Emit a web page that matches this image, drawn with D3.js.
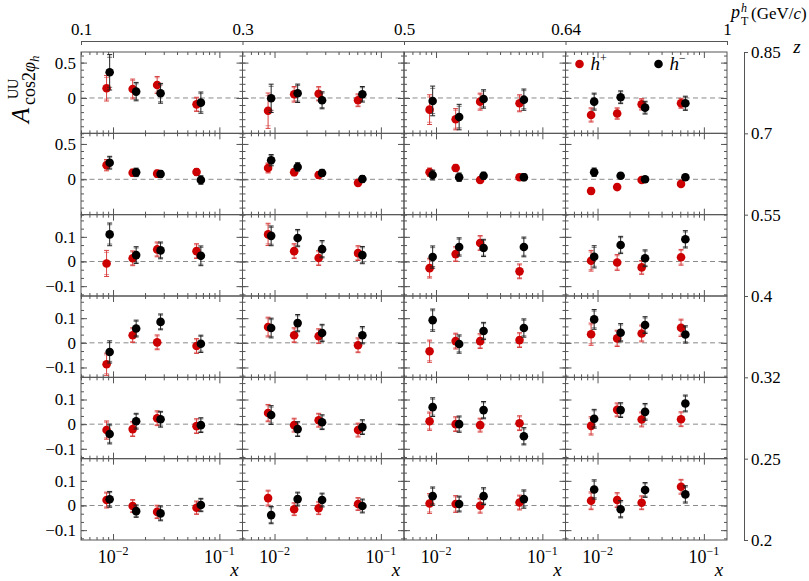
<!DOCTYPE html>
<html>
<head>
<meta charset="utf-8">
<script src="https://cdn.jsdelivr.net/npm/d3@7"></script>
<style>
  body { margin: 0; background: #fff; }
  svg, svg text { font-family: "Liberation Serif", "DejaVu Serif", serif !important; }
</style>
</head>
<body>
<div id="grafico"></div>
<script>
// 1) dados ------------------------------------------------
// bins (z de cima para baixo, pT da esquerda para a direita)
const ptEdges = [0.1, 0.3, 0.5, 0.64, 1];
const zEdges = [0.85, 0.7, 0.55, 0.4, 0.32, 0.25, 0.2];
// x médio de cada bin (h+ levemente deslocado para a esquerda)
const xPlus = [0.0087, 0.0153, 0.026, 0.061];
const xMinus = [0.0093, 0.0165, 0.028, 0.067];
const xTickLabels = [0.01, 0.1];

// A_UU^cos2phi por linha z -> coluna pT -> bin x
const hPlusY = [
  [[0.137, 0.127, 0.184, -0.09], [-0.18, 0.052, 0.06, -0.033], [-0.165, -0.30, -0.052, -0.075], [-0.24, -0.22, -0.09, -0.075]],
  [[0.2, 0.093, 0.08, 0.103], [0.16, 0.1, 0.06, -0.05], [0.1, 0.16, -0.01, 0.03], [-0.165, -0.11, -0.01, -0.065]],
  [[-0.008, 0.013, 0.049, 0.042], [0.11, 0.042, 0.014, 0.034], [-0.027, 0.03, 0.075, -0.04], [0.003, -0.004, -0.024, 0.017]],
  [[-0.087, 0.031, 0.002, -0.013], [0.064, 0.031, 0.027, -0.01], [-0.034, 0.007, 0.007, 0.011], [0.035, 0.018, 0.038, 0.061]],
  [[-0.024, -0.02, 0.024, -0.008], [0.045, -0.004, 0.016, -0.024], [0.012, 0.0, -0.004, 0.004], [-0.007, 0.058, 0.019, 0.02]],
  [[0.022, -0.002, -0.026, -0.009], [0.03, -0.015, -0.011, 0.006], [0.008, 0.006, -0.001, 0.012], [0.019, 0.022, 0.011, 0.076]]
];
const hPlusErr = [
  [[0.18, 0.14, 0.12, 0.10], [0.25, 0.11, 0.10, 0.09], [0.21, 0.15, 0.12, 0.12], [0.10, 0.08, 0.08, 0.07]],
  [[0.08, 0.05, 0.05, 0.05], [0.07, 0.05, 0.05, 0.04], [0.06, 0.05, 0.04, 0.04], [0.05, 0.04, 0.03, 0.03]],
  [[0.053, 0.03, 0.03, 0.03], [0.045, 0.03, 0.03, 0.03], [0.04, 0.03, 0.03, 0.03], [0.042, 0.032, 0.028, 0.032]],
  [[0.045, 0.03, 0.03, 0.03], [0.04, 0.03, 0.03, 0.03], [0.045, 0.032, 0.03, 0.03], [0.045, 0.033, 0.034, 0.035]],
  [[0.037, 0.03, 0.03, 0.03], [0.035, 0.028, 0.028, 0.028], [0.037, 0.03, 0.028, 0.03], [0.037, 0.028, 0.03, 0.03]],
  [[0.032, 0.026, 0.027, 0.027], [0.032, 0.026, 0.026, 0.026], [0.04, 0.034, 0.03, 0.03], [0.036, 0.03, 0.028, 0.03]]
];
const hMinusY = [
  [[0.363, 0.09, 0.066, -0.066], [-0.005, 0.066, -0.033, 0.052], [-0.042, -0.27, -0.014, -0.024], [-0.052, 0.01, -0.137, -0.075]],
  [[0.235, 0.098, 0.075, -0.01], [0.27, 0.175, 0.09, 0.004], [0.06, 0.03, 0.05, 0.03], [0.1, 0.05, 0.0, 0.03]],
  [[0.11, 0.026, 0.045, 0.023], [0.104, 0.095, 0.05, 0.026], [0.018, 0.059, 0.055, 0.059], [0.019, 0.067, 0.013, 0.09]],
  [[-0.037, 0.058, 0.085, -0.004], [0.06, 0.08, 0.04, 0.031], [0.092, -0.005, 0.048, 0.06], [0.095, 0.041, 0.072, 0.034]],
  [[-0.04, 0.012, 0.02, -0.004], [0.037, -0.02, 0.008, -0.012], [0.069, 0.0, 0.057, -0.049], [0.022, 0.057, 0.05, 0.084]],
  [[0.025, -0.023, -0.032, 0.002], [-0.039, 0.026, 0.022, -0.002], [0.038, 0.006, 0.038, 0.026], [0.065, -0.015, 0.063, 0.045]]
];
const hMinusErr = [
  [[0.25, 0.13, 0.14, 0.15], [0.2, 0.13, 0.12, 0.11], [0.21, 0.18, 0.13, 0.15], [0.12, 0.09, 0.09, 0.10]],
  [[0.09, 0.06, 0.05, 0.06], [0.08, 0.06, 0.05, 0.05], [0.07, 0.06, 0.05, 0.05], [0.06, 0.04, 0.04, 0.04]],
  [[0.046, 0.034, 0.034, 0.04], [0.04, 0.035, 0.035, 0.035], [0.045, 0.037, 0.035, 0.04], [0.045, 0.035, 0.034, 0.035]],
  [[0.045, 0.034, 0.032, 0.035], [0.04, 0.035, 0.035, 0.035], [0.045, 0.037, 0.035, 0.037], [0.04, 0.037, 0.034, 0.035]],
  [[0.04, 0.032, 0.032, 0.03], [0.038, 0.03, 0.03, 0.03], [0.038, 0.033, 0.035, 0.035], [0.038, 0.03, 0.034, 0.034]],
  [[0.032, 0.025, 0.03, 0.027], [0.035, 0.028, 0.028, 0.028], [0.037, 0.032, 0.034, 0.037], [0.039, 0.035, 0.03, 0.035]]
];

// 2) medidas -----------------------------------------
const largura = 809, altura = 581;
const esq = 81, dir = 727, sup = 52, inf = 540;
const colW = (dir - esq) / 4, rowH = (inf - sup) / 6;
const xDomain = [0.005, 0.165];
const yWide = [-0.5, 0.65], yNarrow = [-0.14, 0.19];
const eixoCor = "#555";
const vermelho = "#cc0000";
const fonte = "'Liberation Serif', 'DejaVu Serif', serif";

const svg = d3.select("#grafico").append("svg")
  .attr("width", largura).attr("height", altura)
  .style("font-family", fonte);

const xMinor = [0.005, 0.006, 0.007, 0.008, 0.009, 0.02, 0.03, 0.04, 0.05, 0.06, 0.07, 0.08, 0.09];
const minorWide = d3.range(-5, 7).map(i => i / 10);
const minorNarrow = d3.range(-4, 6).map(i => i / 30);

function estiliza(g) {
  g.attr("font-family", null);
  g.select(".domain").remove();
  g.selectAll(".tick line").attr("stroke", eixoCor);
}

// 3) paineis -----------------------------------------
for (let r = 0; r < 6; r++) {
  for (let c = 0; c < 4; c++) {
    const x0 = esq + c * colW, y0 = sup + r * rowH;
    const x = d3.scaleLog().domain(xDomain).range([x0, x0 + colW]);
    const y = d3.scaleLinear().domain(r < 2 ? yWide : yNarrow).range([y0 + rowH, y0]);
    const major = r < 2 ? [0, 0.5] : [-0.1, 0, 0.1];
    const minor = r < 2 ? minorWide : minorNarrow;
    const g = svg.append("g");

    // linha do zero
    g.append("line")
      .attr("x1", x0).attr("x2", x0 + colW)
      .attr("y1", y(0)).attr("y2", y(0))
      .attr("stroke", "#8a8a8a").attr("stroke-dasharray", "5,3.5");

    // eixos (ticks para dentro)
    g.append("g").attr("transform", `translate(${x0},0)`)
      .call(d3.axisLeft(y).tickValues(minor).tickSize(-3).tickFormat("")).call(estiliza);
    g.append("g").attr("transform", `translate(${x0 + colW},0)`)
      .call(d3.axisRight(y).tickValues(minor).tickSize(-3).tickFormat("")).call(estiliza);
    g.append("g").attr("transform", `translate(${x0 + colW},0)`)
      .call(d3.axisRight(y).tickValues(major).tickSize(-6).tickFormat("")).call(estiliza);
    const yl = g.append("g").attr("transform", `translate(${x0},0)`)
      .call(d3.axisLeft(y).tickValues(major).tickSize(-6).tickPadding(5)
        .tickFormat(c === 0 ? (d => d === 0 ? "0" : d3.format(".1f")(d)) : ""))
      .call(estiliza);
    yl.selectAll("text").attr("font-size", 17).style("font-family", fonte);

    [["bottom", y0 + rowH], ["top", y0]].forEach(([lado, yy]) => {
      const ax = lado === "bottom" ? d3.axisBottom : d3.axisTop;
      g.append("g").attr("transform", `translate(0,${yy})`)
        .call(ax(x).tickValues(xMinor).tickSize(-3).tickFormat("")).call(estiliza);
      g.append("g").attr("transform", `translate(0,${yy})`)
        .call(ax(x).tickValues(xTickLabels).tickSize(-6).tickFormat("")).call(estiliza);
    });

    // moldura
    g.append("rect").attr("x", x0).attr("y", y0).attr("width", colW).attr("height", rowH)
      .attr("fill", "none").attr("stroke", eixoCor).attr("stroke-width", 1);

    // series
    const series = [
      { xs: xPlus, vals: hPlusY[r][c], errs: hPlusErr[r][c], cor: vermelho, barra: "#d84040" },
      { xs: xMinus, vals: hMinusY[r][c], errs: hMinusErr[r][c], cor: "#000", barra: "#222" }
    ];
    series.forEach(s => {
      const pts = s.xs.map((xv, i) => ({ x: xv, v: s.vals[i], e: s.errs[i] }));
      const eb = g.append("g").selectAll("g").data(pts).join("g")
        .attr("stroke", s.barra).attr("stroke-width", 1);
      eb.append("line")
        .attr("x1", d => x(d.x)).attr("x2", d => x(d.x))
        .attr("y1", d => y(d.v - d.e)).attr("y2", d => y(d.v + d.e));
      [-1, 1].forEach(sg => {
        eb.append("line")
          .attr("x1", d => x(d.x) - 2.5).attr("x2", d => x(d.x) + 2.5)
          .attr("y1", d => y(d.v + sg * d.e)).attr("y2", d => y(d.v + sg * d.e));
        eb.append("line").attr("opacity", 0.6)
          .attr("x1", d => x(d.x) - 2.5).attr("x2", d => x(d.x) + 2.5)
          .attr("y1", d => y(d.v + sg * d.e * 0.85)).attr("y2", d => y(d.v + sg * d.e * 0.85));
      });
      g.append("g").selectAll("circle").data(pts).join("circle")
        .attr("cx", d => x(d.x)).attr("cy", d => y(d.v)).attr("r", 4.3)
        .attr("fill", s.cor);
    });

    // rotulos do eixo x na ultima linha
    if (r === 5) {
      xTickLabels.forEach(t => {
        const tx = g.append("text").attr("x", x(t)).attr("y", 563)
          .attr("text-anchor", "middle").attr("font-size", 18);
        tx.append("tspan").text("10");
        tx.append("tspan").attr("dy", -8).attr("font-size", 12).text(t === 0.01 ? "−2" : "−1");
      });
      g.append("text").attr("x", x0 + colW - 8).attr("y", 576)
        .attr("text-anchor", "middle").attr("font-size", 19).attr("font-style", "italic").text("x");
    }

    // legenda
    if (r === 0 && c === 3) {
      [[vermelho, "+", 14], ["#000", "−", 93]].forEach(([cor, sinal, dx]) => {
        g.append("circle").attr("cx", x0 + dx).attr("cy", y0 + 12).attr("r", 4.3).attr("fill", cor);
        const t = g.append("text").attr("x", x0 + dx + 11).attr("y", y0 + 18)
          .attr("font-size", 19).attr("font-style", "italic");
        t.append("tspan").text("h");
        t.append("tspan").attr("dy", -8).attr("font-size", 12).attr("font-style", "normal").text(sinal);
      });
    }
  }
}

// 4) eixo pT no topo -----------------------------------------
const pt = d3.scalePoint().domain(ptEdges).range([esq, dir]);
const ptAxis = svg.append("g").attr("transform", "translate(0,41)")
  .call(d3.axisTop(pt).tickSize(-4).tickSizeOuter(0).tickPadding(6).tickFormat(d => String(d)));
ptAxis.attr("font-family", null);
ptAxis.select(".domain").attr("stroke", eixoCor);
ptAxis.selectAll(".tick line").attr("stroke", eixoCor);
ptAxis.selectAll("text").attr("font-size", 17).style("font-family", fonte);

svg.append("text").attr("x", 731).attr("y", 18).attr("font-size", 18)
  .attr("font-style", "italic").text("p");
svg.append("text").attr("x", 741).attr("y", 12).attr("font-size", 12)
  .attr("font-style", "italic").text("h");
svg.append("text").attr("x", 741).attr("y", 25).attr("font-size", 12).text("T");
const unid = svg.append("text").attr("x", 751).attr("y", 19).attr("font-size", 17);
unid.append("tspan").text("(GeV/");
unid.append("tspan").attr("font-style", "italic").text("c");
unid.append("tspan").text(")");

// 5) eixo z a direita -----------------------------------------
const zs = d3.scalePoint().domain(zEdges).range([sup, inf]);
const zAxis = svg.append("g").attr("transform", "translate(744,0)")
  .call(d3.axisRight(zs).tickSize(4).tickSizeOuter(0).tickPadding(3).tickFormat(d => String(d)));
zAxis.attr("font-family", null);
zAxis.select(".domain").attr("stroke", eixoCor);
zAxis.selectAll(".tick line").attr("stroke", eixoCor);
zAxis.selectAll("text").attr("font-size", 17).style("font-family", fonte);
svg.append("text").attr("x", 797).attr("y", 53).attr("font-size", 19)
  .attr("font-style", "italic").attr("text-anchor", "middle").text("z");

// 6) titulo do eixo y -----------------------------------------
svg.append("text").attr("transform", "translate(29,123) rotate(-90)")
  .attr("font-size", 25).attr("font-style", "italic").text("A");
svg.append("text").attr("transform", "translate(18,99) rotate(-90)")
  .attr("font-size", 14).text("UU");
const sub = svg.append("text").attr("transform", "translate(35,105) rotate(-90)").attr("font-size", 18);
sub.append("tspan").text("cos2");
sub.append("tspan").attr("font-style", "italic").text("φ");
sub.append("tspan").attr("font-style", "italic").attr("font-size", 13).attr("dy", 4).text("h");
</script>
</body>
</html>
